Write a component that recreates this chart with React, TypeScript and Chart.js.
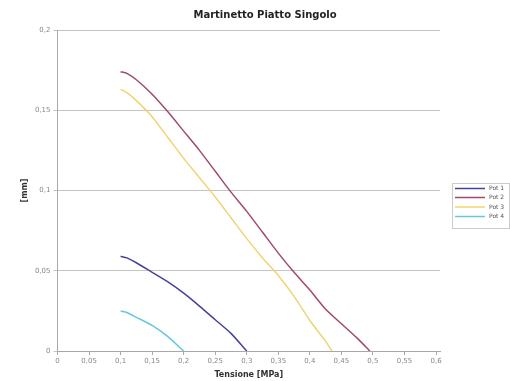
import React, { useEffect, useRef } from "react";
import { Chart, registerables } from "chart.js";

Chart.register(...registerables);

const chartTitle = "Martinetto Piatto Singolo";
const xTitle = "Tensione [MPa]";
const yTitle = "[mm]";
const seriesNames = ["Pot 1", "Pot 2", "Pot 3", "Pot 4"];
const seriesColors = ["#44449a", "#a04a6e", "#f0d470", "#66c8dc"];

const xTickValues = [0, 0.05, 0.1, 0.15, 0.2, 0.25, 0.3, 0.35, 0.4, 0.45, 0.5, 0.55, 0.6];
const xTickLabels = ["0", "0,05", "0,1", "0,15", "0,2", "0,25", "0,3", "0,35", "0,4", "0,45", "0,5", "0,55", "0,6"];
const yTickValues = [0, 0.05, 0.1, 0.15, 0.2];
const yTickLabels = ["0", "0,05", "0,1", "0,15", "0,2"];

const pot1X = [0.1, 0.11, 0.125, 0.15, 0.175, 0.2, 0.225, 0.25, 0.275, 0.3];
const pot1Y = [0.059, 0.058, 0.055, 0.049, 0.043, 0.036, 0.028, 0.0195, 0.011, 0];

const pot2X = [0.1, 0.11, 0.125, 0.15, 0.175, 0.2, 0.225, 0.25, 0.275, 0.3, 0.325, 0.35, 0.375, 0.4, 0.425, 0.45, 0.475, 0.495];
const pot2Y = [0.174, 0.173, 0.169, 0.16, 0.149, 0.137, 0.125, 0.112, 0.099, 0.087, 0.074, 0.061, 0.049, 0.038, 0.026, 0.017, 0.008, 0];

const pot3X = [0.1, 0.11, 0.125, 0.15, 0.175, 0.2, 0.225, 0.25, 0.275, 0.3, 0.325, 0.35, 0.375, 0.4, 0.425, 0.435];
const pot3Y = [0.163, 0.161, 0.156, 0.146, 0.133, 0.12, 0.108, 0.096, 0.083, 0.07, 0.058, 0.047, 0.034, 0.019, 0.006, 0];

const pot4X = [0.1, 0.11, 0.125, 0.15, 0.175, 0.2];
const pot4Y = [0.025, 0.024, 0.021, 0.016, 0.009, 0];

const seriesX = [pot1X, pot2X, pot3X, pot4X];
const seriesY = [pot1Y, pot2Y, pot3Y, pot4Y];

const FONT = "'DejaVu Sans', sans-serif";

const overlayPlugin = {
  id: "overlay",
  afterDraw(chart: any) {
    const ctx = chart.ctx;
    ctx.save();
    // title
    ctx.fillStyle = "#222";
    ctx.font = `bold 10px ${FONT}`;
    ctx.textAlign = "center";
    ctx.textBaseline = "middle";
    ctx.fillText(chartTitle, 265, 15);
    // legend
    ctx.strokeStyle = "#cccccc";
    ctx.lineWidth = 1;
    ctx.strokeRect(452.5, 183.5, 57, 45);
    ctx.font = `6px ${FONT}`;
    ctx.textAlign = "left";
    const rows = [188.5, 197.5, 207, 216.5];
    chart.data.datasets.forEach((ds: any, i: number) => {
      const y = rows[i];
      ctx.strokeStyle = ds.borderColor;
      ctx.lineWidth = 1.5;
      ctx.beginPath();
      ctx.moveTo(455, y);
      ctx.lineTo(485, y);
      ctx.stroke();
      ctx.fillStyle = "#555";
      ctx.fillText(ds.label, 489, y);
    });
    ctx.restore();
  },
};

export default function App() {
  const ref = useRef<HTMLCanvasElement | null>(null);
  useEffect(() => {
    if (!ref.current) return;
    const chart = new Chart(ref.current, {
      type: "line",
      data: {
        datasets: seriesNames.map((name, i) => ({
          label: name,
          data: seriesX[i].map((x, j) => ({ x, y: seriesY[i][j] })),
          borderColor: seriesColors[i],
          backgroundColor: seriesColors[i],
          borderWidth: 1.5,
          pointRadius: 0,
          fill: false,
          tension: 0.2,
        })),
      },
      options: {
        responsive: false,
        animation: false,
        layout: { padding: { left: 0, right: 70, top: 30, bottom: 0 } },
        plugins: {
          legend: { display: false },
          title: { display: false },
          tooltip: { enabled: false },
        },
        scales: {
          x: {
            type: "linear",
            min: 0,
            max: 0.6063,
            afterBuildTicks: (scale: any) => {
              scale.ticks = xTickValues.map((v) => ({ value: v }));
            },
            afterFit: (scale: any) => {
              scale.height = 30;
            },
            ticks: {
              font: { family: FONT, size: 7 },
              color: "#888",
              padding: 2,
              maxRotation: 0,
              autoSkip: false,
              callback: (v: any) => {
                const idx = xTickValues.findIndex((t) => Math.abs(t - v) < 1e-9);
                return idx >= 0 ? xTickLabels[idx] : "";
              },
            },
            grid: { drawOnChartArea: false, drawTicks: true, tickLength: 4, color: "#a8a8a8" },
            border: { color: "#a8a8a8" },
            title: {
              display: true,
              text: xTitle,
              font: { family: FONT, size: 8, weight: "bold" },
              color: "#333",
              padding: { top: 0, bottom: 1 },
            },
          },
          y: {
            type: "linear",
            min: 0,
            max: 0.2,
            afterBuildTicks: (scale: any) => {
              scale.ticks = yTickValues.map((v) => ({ value: v }));
            },
            afterFit: (scale: any) => {
              scale.width = 57.5;
            },
            ticks: {
              font: { family: FONT, size: 7 },
              color: "#888",
              padding: 3,
              autoSkip: false,
              callback: (v: any) => {
                const idx = yTickValues.findIndex((t) => Math.abs(t - v) < 1e-9);
                return idx >= 0 ? yTickLabels[idx] : "";
              },
            },
            grid: { drawOnChartArea: true, drawTicks: true, tickLength: 4, color: "#c4c4c4" },
            border: { color: "#a8a8a8" },
            title: {
              display: true,
              text: yTitle,
              font: { family: FONT, size: 8, weight: "bold" },
              color: "#333",
              padding: { top: 20, bottom: 0 },
            },
          },
        },
      },
      plugins: [overlayPlugin],
    });
    return () => chart.destroy();
  }, []);
  return (
    <div style={{ position: "absolute", left: 0, top: 0, width: 510, height: 381, background: "#fff" }}>
      <canvas ref={ref} width={510} height={381} style={{ width: 510, height: 381, display: "block" }} />
    </div>
  );
}
